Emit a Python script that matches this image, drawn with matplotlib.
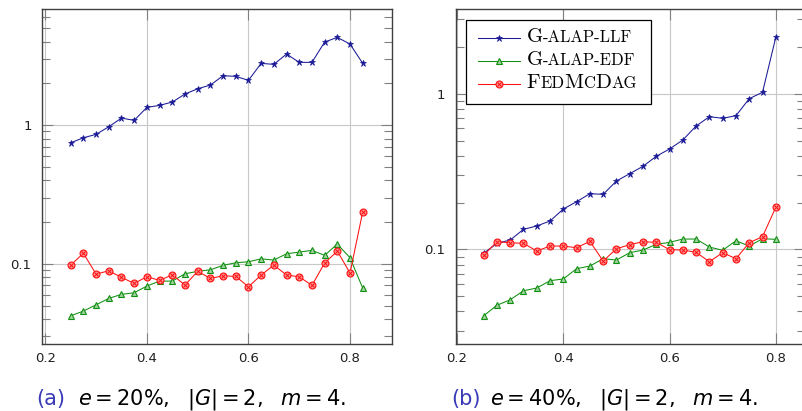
import matplotlib
matplotlib.use("Agg")
import matplotlib.pyplot as plt
from matplotlib.ticker import FixedLocator, LogLocator, NullFormatter

plt.rcParams['mathtext.fontset'] = 'dejavusans'

# utilisation values (x axis)
util_a = [0.25, 0.275, 0.3, 0.325, 0.35, 0.375, 0.4, 0.425, 0.45, 0.475, 0.5, 0.525,
          0.55, 0.575, 0.6, 0.625, 0.65, 0.675, 0.7, 0.725, 0.75, 0.775, 0.8, 0.825]
util_b = [0.25, 0.275, 0.3, 0.325, 0.35, 0.375, 0.4, 0.425, 0.45, 0.475, 0.5, 0.525,
          0.55, 0.575, 0.6, 0.625, 0.65, 0.675, 0.7, 0.725, 0.75, 0.775, 0.8]

# (a) e = 20%
llf_a = [0.745, 0.810, 0.857, 0.972, 1.123, 1.081, 1.341, 1.387, 1.465, 1.673, 1.827, 1.943,
         2.267, 2.245, 2.101, 2.785, 2.739, 3.251, 2.832, 2.832, 3.967, 4.288, 3.837, 2.785]
edf_a = [0.0422, 0.0456, 0.0506, 0.0563, 0.0602, 0.0618, 0.0691, 0.0750, 0.0750, 0.0847,
         0.0882, 0.0905, 0.0974, 0.1017, 0.1034, 0.1086, 0.1063, 0.1181, 0.1214, 0.1249,
         0.1150, 0.1387, 0.1105, 0.0668]
fed_a = [0.0979, 0.1189, 0.0843, 0.0890, 0.0798, 0.0722, 0.0806, 0.0759, 0.0833, 0.0702,
         0.0882, 0.0785, 0.0819, 0.0811, 0.0683, 0.0829, 0.0979, 0.0829, 0.0806, 0.0699,
         0.1012, 0.1234, 0.0857, 0.2370]

# (b) e = 40%
llf_b = [0.0944, 0.1094, 0.1149, 0.1346, 0.1414, 0.1522, 0.1818, 0.2025, 0.2279, 0.2258,
         0.2750, 0.3064, 0.3418, 0.3962, 0.4415, 0.5042, 0.6201, 0.7115, 0.6950, 0.7222,
         0.9287, 1.021, 2.302]
edf_b = [0.0375, 0.0438, 0.0475, 0.0543, 0.0565, 0.0630, 0.0646, 0.0752, 0.0782, 0.0872,
         0.0855, 0.0953, 0.0991, 0.1078, 0.1110, 0.1166, 0.1166, 0.1036, 0.0987, 0.1137,
         0.1051, 0.1171, 0.1161]
fed_b = [0.0917, 0.1121, 0.1104, 0.1094, 0.0977, 0.1051, 0.1051, 0.1025, 0.1127, 0.0842,
         0.1010, 0.1072, 0.1121, 0.1110, 0.0996, 0.0991, 0.0958, 0.0834, 0.0953, 0.0872,
         0.1104, 0.1207, 0.1864]

# legend labels as small-caps pieces: (text, is_big)
labels_sc = [
    [("G", True), ("-ALAP-LLF", False)],
    [("G", True), ("-ALAP-EDF", False)],
    [("F", True), ("ED", False), ("M", True), ("C", False), ("D", True), ("AG", False)],
]
captions = [("(a)", r"$e = 20\%,\ \ |G| = 2,\ \ m = 4.$"),
            ("(b)", r"$e = 40\%,\ \ |G| = 2,\ \ m = 4.$")]

BLUE = '#1a1a96'
GREEN = '#109010'
RED = '#ff1010'
SERIF = ['cmr10', 'DejaVu Serif']

fig = plt.figure(figsize=(8.03, 4.11), dpi=100)
ax_a = fig.add_axes([0.0523, 0.163, 0.4359, 0.8143])
ax_b = fig.add_axes([0.5675, 0.163, 0.435, 0.8143])


def draw_panel(ax, x, llf, edf, fed):
    l1, = ax.plot(x, llf, color=BLUE, lw=0.75, marker='*', ms=4.8, mfc=BLUE, mec=BLUE, mew=0.5)
    l2, = ax.plot(x, edf, color=GREEN, lw=0.75, marker='^', ms=4.2, mfc='#a0d0a0', mec=GREEN, mew=0.8)
    l3, = ax.plot(x, fed, color=RED, lw=0.75, marker='o', ms=5, mfc='#ff9090', mec=RED, mew=0.8)
    l3x, = ax.plot(x, fed, ls='none', marker='x', ms=3, mec=RED, mew=0.7)
    ax.set_yscale('log')
    ax.yaxis.set_major_locator(FixedLocator([0.01, 0.1, 1, 10]))
    ax.set_yticklabels(['0.01', '0.1', '1', '10'])
    ax.yaxis.set_minor_locator(LogLocator(base=10, subs=[2, 3, 4, 5, 6, 7, 8, 9]))
    ax.yaxis.set_minor_formatter(NullFormatter())
    ax.set_xticks([0.2, 0.4, 0.6, 0.8])
    ax.set_xticklabels(['0.2', '0.4', '0.6', '0.8'])
    ax.grid(True, which='major', color='#c8c8c8', lw=0.8)
    ax.set_axisbelow(True)
    ax.tick_params(which='both', direction='in', top=True, right=True, color='#808080',
                   width=0.8, labelsize=9.5, labelcolor='#202020')
    ax.tick_params(which='major', length=8)
    ax.tick_params(which='minor', length=5.5)
    ax.tick_params(axis='y', pad=7.5)
    ax.tick_params(axis='x', pad=6)
    for s in ax.spines.values():
        s.set_color('#404040')
        s.set_linewidth(1.0)
    return [l1, l2, (l3, l3x)]


draw_panel(ax_a, util_a, llf_a, edf_a, fed_a)
ax_a.set_xlim(0.1935, 0.8827)
ax_a.set_ylim(0.0264, 6.83)

handles = draw_panel(ax_b, util_b, llf_b, edf_b, fed_b)
ax_b.set_xlim(0.1974, 0.855)
ax_b.set_ylim(0.0247, 3.48)

# legend with blank placeholder labels, small caps drawn on top of them
placeholders = [" " * 22] * 3
leg = ax_b.legend(handles, placeholders, loc='upper left', bbox_to_anchor=(0.0295, 0.968),
                  borderaxespad=0, fancybox=False, framealpha=1, edgecolor='black',
                  prop={'family': 'DejaVu Sans', 'size': 11.5}, handlelength=2.65,
                  handletextpad=0.42, labelspacing=0.49, borderpad=0.72)
leg.get_frame().set_linewidth(0.9)
BIG, SMALL = 15, 12
for t, row in zip(leg.get_texts(), labels_sc):
    prev = None
    for seg, big in row:
        size = BIG if big else SMALL
        dy = 1.0 - 0.194 * (BIG - SMALL) if big else 1.0
        if prev is None:
            xyc, xy = t, (0, 0)
        else:
            xyc, xy = (prev, t), (1, 0)
        prev = ax_b.annotate(seg, xy=xy, xycoords=xyc, xytext=(0, dy), textcoords='offset points',
                             ha='left', va='bottom', fontsize=size, family=SERIF,
                             zorder=10, annotation_clip=False)

# sub-captions
for (tag, body), xt, xm in zip(captions, [36, 451], [78, 490]):
    fig.text(xt / 803, 0.015, tag, color='#3a3ab8', fontsize=15, va='baseline', ha='left')
    fig.text(xm / 803, 0.015, body, color='black', fontsize=15, va='baseline', ha='left')

fig.savefig("out.png", dpi=100)
